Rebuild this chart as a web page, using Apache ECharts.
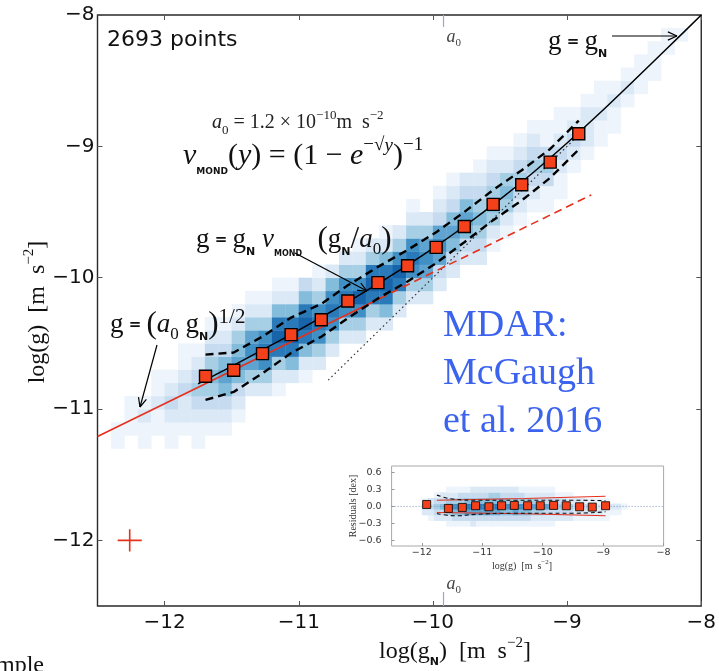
<!DOCTYPE html>
<html><head><meta charset="utf-8">
<script src="https://cdn.jsdelivr.net/npm/echarts@6/dist/echarts.min.js"></script>
<style>html,body{margin:0;padding:0;background:#fff}#c{width:719px;height:671px}</style>
</head><body><div id="c"></div>
<script>
// ---------------- DATA ----------------
const xTicks = [-12, -11, -10, -9, -8];
const yTicks = [-12, -11, -10, -9, -8];
const a0Log = -9.921;
// MOND relation g = gN * nu(gN/a0) (read points along the solid black curve)
const curveX = [-11.75,-11.5,-11.25,-11,-10.75,-10.5,-10.25,-10,-9.75,-9.5,-9.25,-9,-8.75,-8.5,-8.25,-8];
const curveY = [-10.809,-10.675,-10.539,-10.399,-10.254,-10.103,-9.945,-9.777,-9.597,-9.404,-9.197,-8.975,-8.741,-8.497,-8.250,-8.000];
// binned data (red squares)
const binX = [-11.695,-11.485,-11.27,-11.057,-10.832,-10.634,-10.41,-10.189,-9.976,-9.766,-9.551,-9.338,-9.126,-8.913];
const binY = [-10.751,-10.705,-10.578,-10.434,-10.320,-10.178,-10.038,-9.909,-9.769,-9.610,-9.442,-9.292,-9.120,-8.904];
const upperY = [-10.586,-10.570,-10.448,-10.304,-10.200,-10.058,-9.918,-9.789,-9.654,-9.500,-9.332,-9.182,-9.020,-8.804];
const lowerY = [-10.931,-10.870,-10.728,-10.574,-10.450,-10.308,-10.158,-10.029,-9.889,-9.730,-9.562,-9.412,-9.240,-9.024];
// deep-MOND line g = (a0 gN)^1/2
const redSolidX = [-12.5, -10.4];
const redSolidY = [-11.21, -10.16];
const redDashX = [-10.4, -8.82];
const redDashY = [-10.16, -9.37];
// g = gN dotted
const gnX = [-10.78, -8.95];
const gnY = [-10.78, -8.95];
// error cross
const errX = -12.26, errY = -12.0, errDX = 0.09, errDY = 0.085;
// 2D histogram: column centre, lowest bin centre, intensities (0-9) upward in 0.1 dex bins
const heatX = [-12.35,-12.25,-12.15,-12.05,-11.95,-11.85,-11.75,-11.65,-11.55,-11.45,-11.35,-11.25,-11.15,-11.05,-10.95,-10.85,-10.75,-10.65,-10.55,-10.45,-10.35,-10.25,-10.15,-10.05,-9.95,-9.85,-9.75,-9.65,-9.55,-9.45,-9.35,-9.25,-9.15,-9.05,-8.95,-8.85,-8.75,-8.65,-8.55,-8.45,-8.35,-8.25,-8.15];
const heatY0 = [-11.55,-11.45,-11.45,-11.35,-11.35,-11.25,-11.25,-11.15,-11.15,-11.05,-10.95,-10.95,-10.85,-10.85,-10.75,-10.75,-10.65,-10.55,-10.55,-10.45,-10.45,-10.35,-10.25,-10.25,-10.15,-10.05,-9.95,-9.95,-9.85,-9.75,-9.65,-9.55,-9.55,-9.45,-9.35,-9.25,-9.15,-9.05,-8.95,-8.85,-8.75,-8.65,-8.55];
const heatV = ["000110000","000111000","001121000","001121100","011232100","012232110","112343210","123454321","123565321","123565421","024676421","024787421","124898521","025898521","125898530","024787421","024787520","024787420","024797421","024898420","025898521","024897420","024787421","024676420","023676321","023565321","023565320","023454321","012454321","012454210","012343210","012343210","011343110","011232110","001232100","001222100","001121100","001121000","000121000","000111000","000111000","000011000","000010000"];
// residual inset
const resX = [-11.92,-11.56,-11.33,-11.11,-10.89,-10.68,-10.47,-10.25,-10.04,-9.82,-9.61,-9.39,-9.18,-8.96];
const resY = [0.035,-0.035,-0.018,0.012,-0.006,0.012,0.018,0.012,0.012,0.018,0.012,-0.006,-0.012,0.012];
const resRedX = [-11.75, -10.3, -8.96];
const resRedUp = [0.11, 0.14, 0.18];
const resRedLo = [-0.107, -0.13, -0.166];
const resDashX = [-11.75,-11.45,-11.1,-10.5,-9.5,-8.96];
const resDashUp = [0.20,0.125,0.11,0.11,0.11,0.10];
const resDashLo = [-0.124,-0.166,-0.14,-0.12,-0.12,-0.095];
const resHeatX = [-11.95,-11.85,-11.75,-11.65,-11.55,-11.45,-11.35,-11.25,-11.15,-11.05,-10.95,-10.85,-10.75,-10.65,-10.55,-10.45,-10.35,-10.25,-10.15,-10.05,-9.95,-9.85,-9.75,-9.65,-9.55,-9.45,-9.35,-9.25,-9.15,-9.05,-8.95,-8.85,-8.75,-8.65];
const resHeatY0 = -0.3;
const resHeatV = ["0023100","0123200","0234310","0235320","1246421","1357421","1357431","1368531","2368532","1368532","1368532","1368542","1368542","1357532","1357432","1368432","1357431","1357421","1246421","1246321","1236321","1235321","0234310","0234310","0234210","0123200","0123200","0123100","0123100","0122100","0112100","0012000","0012000","0001000"];
const resTicksX = [-12, -11, -10, -9, -8];
const resTicksY = [-0.6, -0.3, 0, 0.3, 0.6];

// ---------------- BUILD ----------------
const SERIF = "'Liberation Serif','DejaVu Serif',serif";
const SANS = "'DejaVu Sans',sans-serif";
const heatColors = ['rgba(0,0,0,0)','#edf4fb','#dbe9f6','#c6dbef','#a6cee4','#84bcdb','#5fa3d0','#4090c5','#2a7ab9','#1764ab'];
const zip = (a, b) => a.map((v, i) => [v, b[i]]);
function cells(xs, y0s, vs, dy) {
  const out = [];
  xs.forEach((x, i) => {
    const s = vs[i];
    const y0 = Array.isArray(y0s) ? y0s[i] : y0s;
    for (let k = 0; k < s.length; k++) {
      const v = +s[k];
      if (v > 0) out.push([x, +(y0 + dy * k).toFixed(3), v]);
    }
  });
  return out;
}
function rectItem(hw, hh) {
  return function (params, api) {
    const x = api.value(0), y = api.value(1), v = api.value(2);
    const p0 = api.coord([x - hw, y + hh]);
    const p1 = api.coord([x + hw, y - hh]);
    return { type: 'rect', shape: { x: p0[0], y: p0[1], width: p1[0] - p0[0] + 0.4, height: p1[1] - p0[1] + 0.4 },
      style: { fill: heatColors[v] } };
  };
}
const fmtMain = v => String(v).replace('-', '\u2212');
const fmtRes = v => (Math.abs(v) < 1e-9 ? '0.0' : v.toFixed(1).replace('-', '\u2212'));

const mainAxisCommon = {
  type: 'value', min: -12.5, max: -8, splitLine: { show: false },
  axisLine: { show: false, onZero: false }
};
const chart = echarts.init(document.getElementById('c'));
const option = {
  animation: false,
  backgroundColor: '#fff',
  grid: [
    { left: 97.5, top: 15, width: 606.5, height: 591, show: true, borderColor: '#2a2a2a', borderWidth: 1.4, backgroundColor: 'rgba(0,0,0,0)' },
    { left: 391.6, top: 466, width: 272, height: 80, show: true, borderColor: '#a8a8a8', borderWidth: 1, backgroundColor: 'rgba(0,0,0,0)' }
  ],
  xAxis: [
    Object.assign({}, mainAxisCommon, { gridIndex: 0, position: 'bottom',
      axisTick: { inside: true, length: 5, customValues: xTicks, lineStyle: { color: '#555', width: 1 } },
      axisLabel: { customValues: xTicks, formatter: fmtMain, fontSize: 20, fontFamily: SANS, color: '#111', margin: 7 } }),
    Object.assign({}, mainAxisCommon, { gridIndex: 0, position: 'top',
      axisTick: { inside: true, length: 5, customValues: xTicks, lineStyle: { color: '#555', width: 1 } },
      axisLabel: { show: false } }),
    { gridIndex: 1, type: 'value', min: -12.5, max: -8, splitLine: { show: false }, axisLine: { show: false, onZero: false },
      axisTick: { inside: true, length: 3, customValues: resTicksX, lineStyle: { color: '#999' } },
      axisLabel: { customValues: resTicksX, formatter: fmtMain, fontSize: 9.5, fontFamily: SANS, color: '#333', margin: 2 } }
  ],
  yAxis: [
    { gridIndex: 0, type: 'value', min: -12.5, max: -8, position: 'left', splitLine: { show: false }, axisLine: { show: false, onZero: false },
      axisTick: { inside: true, length: 5, customValues: yTicks, lineStyle: { color: '#555', width: 1 } },
      axisLabel: { customValues: yTicks, formatter: fmtMain, fontSize: 20, fontFamily: SANS, color: '#111', margin: 3 } },
    { gridIndex: 0, type: 'value', min: -12.5, max: -8, position: 'right', splitLine: { show: false }, axisLine: { show: false, onZero: false },
      axisTick: { inside: true, length: 5, customValues: yTicks, lineStyle: { color: '#555', width: 1 } },
      axisLabel: { show: false } },
    { gridIndex: 1, type: 'value', min: -0.7, max: 0.715, splitLine: { show: false }, axisLine: { show: false, onZero: false },
      axisTick: { inside: true, length: 3, customValues: resTicksY, lineStyle: { color: '#999' } },
      axisLabel: { customValues: resTicksY, formatter: fmtRes, fontSize: 9.5, fontFamily: SANS, color: '#333', margin: 10 } }
  ],
  series: [
    { type: 'custom', xAxisIndex: 0, yAxisIndex: 0, renderItem: rectItem(0.05, 0.05), data: cells(heatX, heatY0, heatV, 0.1), encode: { x: 0, y: 1 }, clip: true, z: 1, silent: true },
    { type: 'line', xAxisIndex: 0, yAxisIndex: 0, data: zip(gnX, gnY), showSymbol: false, lineStyle: { color: '#333', width: 1.2, type: [1.5, 3] }, z: 2 },
    { type: 'line', xAxisIndex: 0, yAxisIndex: 0, data: zip(curveX, curveY), smooth: 0.3, showSymbol: false, lineStyle: { color: '#000', width: 1.5 }, z: 3 },
    { type: 'line', xAxisIndex: 0, yAxisIndex: 0, data: zip(redSolidX, redSolidY), showSymbol: false, lineStyle: { color: '#e5301c', width: 1.6 }, z: 4 },
    { type: 'line', xAxisIndex: 0, yAxisIndex: 0, data: zip(redDashX, redDashY), showSymbol: false, lineStyle: { color: '#e5301c', width: 1.6, type: [8, 5] }, z: 4 },
    { type: 'line', xAxisIndex: 0, yAxisIndex: 0, data: zip(binX, upperY), showSymbol: false, lineStyle: { color: '#000', width: 2.4, type: [8, 5] }, z: 5 },
    { type: 'line', xAxisIndex: 0, yAxisIndex: 0, data: zip(binX, lowerY), showSymbol: false, lineStyle: { color: '#000', width: 2.4, type: [8, 5] }, z: 5 },
    { type: 'scatter', xAxisIndex: 0, yAxisIndex: 0, data: zip(binX, binY), symbol: 'rect', symbolSize: 12, itemStyle: { color: '#f4411c', borderColor: '#000', borderWidth: 1.4, opacity: 1 }, z: 6 },
    { type: 'line', xAxisIndex: 0, yAxisIndex: 0, data: [[errX - errDX, errY], [errX + errDX, errY]], showSymbol: false, lineStyle: { color: '#e5301c', width: 1.6 }, z: 6 },
    { type: 'line', xAxisIndex: 0, yAxisIndex: 0, data: [[errX, errY - errDY], [errX, errY + errDY]], showSymbol: false, lineStyle: { color: '#e5301c', width: 1.6 }, z: 6 },
    // inset
    { type: 'custom', xAxisIndex: 2, yAxisIndex: 2, renderItem: rectItem(0.05, 0.05), data: cells(resHeatX, resHeatY0, resHeatV, 0.1), encode: { x: 0, y: 1 }, clip: true, z: 1, silent: true },
    { type: 'line', xAxisIndex: 2, yAxisIndex: 2, data: [[-12.5, 0], [-8, 0]], showSymbol: false, lineStyle: { color: '#6f8fb8', width: 0.9, type: [1, 2] }, z: 2 },
    { type: 'line', xAxisIndex: 2, yAxisIndex: 2, data: zip(resRedX, resRedUp), smooth: true, showSymbol: false, lineStyle: { color: '#e5301c', width: 1.1 }, z: 3 },
    { type: 'line', xAxisIndex: 2, yAxisIndex: 2, data: zip(resRedX, resRedLo), smooth: true, showSymbol: false, lineStyle: { color: '#e5301c', width: 1.1 }, z: 3 },
    { type: 'line', xAxisIndex: 2, yAxisIndex: 2, data: zip(resDashX, resDashUp), smooth: true, showSymbol: false, lineStyle: { color: '#111', width: 1.1, type: [4, 3] }, z: 3 },
    { type: 'line', xAxisIndex: 2, yAxisIndex: 2, data: zip(resDashX, resDashLo), smooth: true, showSymbol: false, lineStyle: { color: '#111', width: 1.1, type: [4, 3] }, z: 3 },
    { type: 'scatter', xAxisIndex: 2, yAxisIndex: 2, data: zip(resX, resY), symbol: 'rect', symbolSize: 8, itemStyle: { color: '#f4411c', borderColor: '#000', borderWidth: 0.8, opacity: 1 }, z: 4 }
  ]
};
chart.setOption(option);

// ---------------- ANNOTATIONS ----------------
function txt(x, y, text, rich, extra) {
  return Object.assign({ type: 'text', x: x, y: y, z: 20,
    style: Object.assign({ text: text, rich: rich, fill: '#111', align: 'left', verticalAlign: 'middle' }, extra || {}) });
}
function seg(x1, y1, x2, y2) {
  return { type: 'line', z: 20, shape: { x1: x1, y1: y1, x2: x2, y2: y2 }, style: { stroke: '#000', lineWidth: 1.2 } };
}
function arrow(x1, y1, x2, y2) {
  const a = Math.atan2(y2 - y1, x2 - x1), L = 10, w = 0.42;
  return [
    seg(x1, y1, x2, y2),
    seg(x2 - L * Math.cos(a - w), y2 - L * Math.sin(a - w), x2, y2),
    seg(x2 - L * Math.cos(a + w), y2 - L * Math.sin(a + w), x2, y2)
  ];
}
const R = {
  n20: { fontFamily: SERIF, fontSize: 20, lineHeight: 28, fill: '#222' },
  i20: { fontFamily: SERIF, fontSize: 20, fontStyle: 'italic', lineHeight: 28, fill: '#222' },
  sub13: { fontFamily: SERIF, fontSize: 13, lineHeight: 20, verticalAlign: 'bottom', fill: '#222' },
  sup13: { fontFamily: SERIF, fontSize: 13, lineHeight: 13, verticalAlign: 'top', fill: '#222' },
  n30: { fontFamily: SERIF, fontSize: 30, lineHeight: 40, fill: '#111' },
  i30: { fontFamily: SERIF, fontSize: 30, fontStyle: 'italic', lineHeight: 40, fill: '#111' },
  mond: { fontFamily: SANS, fontSize: 9, fontWeight: 'bold', lineHeight: 14, verticalAlign: 'bottom', fill: '#111' },
  sup19: { fontFamily: SERIF, fontSize: 19, lineHeight: 19, verticalAlign: 'top', fill: '#111' },
  supi19: { fontFamily: SERIF, fontSize: 19, fontStyle: 'italic', lineHeight: 19, verticalAlign: 'top', fill: '#111' },
  g27: { fontFamily: SERIF, fontSize: 27, lineHeight: 36, fill: '#111' },
  p30: { fontFamily: SERIF, fontSize: 31, lineHeight: 36, fill: '#111' },
  i27: { fontFamily: SERIF, fontSize: 27, fontStyle: 'italic', lineHeight: 36, fill: '#111' },
  eq: { fontFamily: SANS, fontSize: 15, fontWeight: 'bold', lineHeight: 36, fill: '#111' },
  N: { fontFamily: SANS, fontSize: 11, fontWeight: 'bold', lineHeight: 22, verticalAlign: 'bottom', fill: '#111' },
  s0: { fontFamily: SERIF, fontSize: 17, lineHeight: 24, verticalAlign: 'bottom', fill: '#111' },
  mond8: { fontFamily: SANS, fontSize: 8, fontWeight: 'bold', lineHeight: 12, verticalAlign: 'bottom', fill: '#111' },
  sup20: { fontFamily: SERIF, fontSize: 21, lineHeight: 20, verticalAlign: 'top', fill: '#111' },
  ax: { fontFamily: SERIF, fontSize: 24, lineHeight: 32, fill: '#111' },
  axN: { fontFamily: SANS, fontSize: 11, fontWeight: 'bold', lineHeight: 24, verticalAlign: 'bottom', fill: '#111' },
  axS: { fontFamily: SERIF, fontSize: 15, lineHeight: 15, verticalAlign: 'top', fill: '#111' },
  sx: { fontFamily: SERIF, fontSize: 10, lineHeight: 14, fill: '#333' },
  sxS: { fontFamily: SERIF, fontSize: 7, lineHeight: 7, verticalAlign: 'top', fill: '#333' },
  a0i: { fontFamily: SERIF, fontSize: 18, fontStyle: 'italic', lineHeight: 24, fill: '#444' },
  a0s: { fontFamily: SERIF, fontSize: 11, lineHeight: 18, verticalAlign: 'bottom', fill: '#444' }
};
const a0px = chart.convertToPixel({ xAxisIndex: 0 }, a0Log);
const frameTop = chart.convertToPixel({ yAxisIndex: 0 }, -8);
const frameBot = chart.convertToPixel({ yAxisIndex: 0 }, -12.5);
const graphics = [
  txt(107, 40, '2693 points', null, { fontFamily: SANS, fontSize: 22, fill: '#111' }),
  txt(212, 123, '{i20|a}{sub13|0}{n20| = 1.2 × 10}{sup13|−10}{n20|m  s}{sup13|−2}', R),
  txt(183, 156, '{i30|ν}{mond|MOND}{n30|(}{i30|y}{n30|) = (1 − }{i30|e}{sup19|−√}{supi19|y}{n30|)}{sup19|−1}', R),
  txt(196, 240, '{g27|g}{eq| = }{g27|g}{N|N}{i27| ν}{mond8|MOND}{p30|  (}{g27|g}{N|N}{p30|/}{i27|a}{s0|0}{p30|)}', R),
  txt(110, 325, '{g27|g}{eq| = }{p30|(}{i27|a}{s0|0}{g27| g}{N|N}{p30|)}{sup20|1/2}', R),
  txt(548, 42, '{g27|g}{eq| = }{g27|g}{N|N}', R),
  ...arrow(295, 253, 367, 291),
  ...arrow(157, 345, 140, 407),
  ...arrow(612, 36, 677, 36),
  txt(443, 326, 'MDAR:', null, { fontFamily: SERIF, fontSize: 38, fill: '#3b63ee' }),
  txt(443, 374, 'McGaugh', null, { fontFamily: SERIF, fontSize: 38, fill: '#3b63ee' }),
  txt(443, 422, 'et al. 2016', null, { fontFamily: SERIF, fontSize: 38, fill: '#3b63ee' }),
  // a0 markers
  { type: 'line', z: 20, shape: { x1: a0px, y1: frameTop, x2: a0px, y2: frameTop + 12 }, style: { stroke: '#9aa3e0', lineWidth: 1.2 } },
  { type: 'line', z: 20, shape: { x1: a0px, y1: frameBot, x2: a0px, y2: frameBot - 14 }, style: { stroke: '#9aa3e0', lineWidth: 1.2 } },
  txt(a0px + 3, 37, '{a0i|a}{a0s|0}', R),
  txt(a0px + 3, 584, '{a0i|a}{a0s|0}', R),
  // axis titles
  txt(455, 652, '{ax|log(g}{axN|N}{ax|)  [m  s}{axS|−2}{ax|]}', R, { align: 'center' }),
  Object.assign(txt(38, 312, '{ax|log(g)  [m  s}{axS|−2}{ax|]}', R, { align: 'center' }), { rotation: Math.PI / 2 }),
  // inset titles
  txt(522, 566, '{sx|log(g)  [m  s}{sxS|−2}{sx|]}', R, { align: 'center' }),
  Object.assign(txt(353, 506, 'Residuals [dex]', null, { fontFamily: SERIF, fontSize: 10, fill: '#333', align: 'center' }), { rotation: Math.PI / 2 }),
  // cropped slide text
  txt(-4, 666, 'mple', null, { fontFamily: SERIF, fontSize: 24, fill: '#111' })
];
chart.setOption({ graphic: graphics });
</script>
</body></html>
